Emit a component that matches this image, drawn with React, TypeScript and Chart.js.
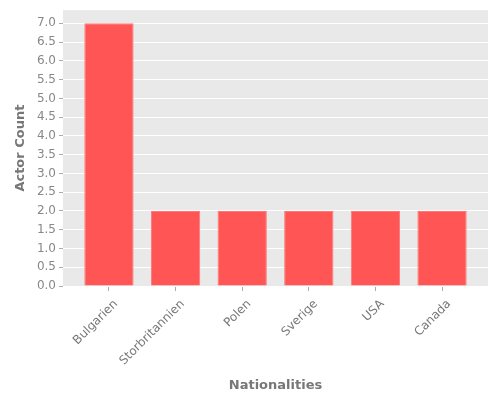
import React, { useEffect, useRef } from "react";
import { Chart, registerables } from "chart.js";

Chart.register(...registerables);

const categories = ["Bulgarien", "Storbritannien", "Polen", "Sverige", "USA", "Canada"];
const actorCounts = [7, 2, 2, 2, 2, 2];
const yTickValues = [0, 0.5, 1, 1.5, 2, 2.5, 3, 3.5, 4, 4.5, 5, 5.5, 6, 6.5, 7];

const plotBg = {
  id: "plotBg",
  beforeDraw(chart: any) {
    const { ctx, chartArea } = chart;
    if (!chartArea) return;
    ctx.save();
    ctx.fillStyle = "#e9e9e9";
    ctx.fillRect(chartArea.left, chartArea.top, chartArea.right - chartArea.left, chartArea.bottom - chartArea.top);
    ctx.restore();
  },
};

export default function App() {
  const ref = useRef<HTMLCanvasElement>(null);
  useEffect(() => {
    if (!ref.current) return;
    const font = "'DejaVu Sans', sans-serif";
    const chart = new Chart(ref.current, {
      type: "bar",
      data: {
        datasets: [
          {
            data: actorCounts.map((v, i) => ({ x: i, y: v })),
            backgroundColor: "#ff5555",
            borderColor: "#ff7777",
            borderWidth: 1,
            barPercentage: 0.74,
            categoryPercentage: 1,
          },
        ],
      },
      options: {
        animation: false,
        responsive: true,
        maintainAspectRatio: false,
        layout: { padding: { top: 10, right: 12, left: 0, bottom: 0 } },
        plugins: { legend: { display: false }, tooltip: { enabled: false } },
        scales: {
          x: {
            type: "linear",
            offset: false,
            min: -0.69,
            max: 5.69,
            afterBuildTicks: (scale: any) => {
              scale.ticks = categories.map((_, i) => ({ value: i }));
            },
            afterFit: (scale: any) => {
              scale.height = 114;
            },
            ticks: {
              autoSkip: false,
              maxRotation: 45,
              minRotation: 45,
              color: "#777",
              font: { family: font, size: 12 },
              padding: 6,
              labelOffset: 7,
              callback: (v: any) => categories[Math.round(Number(v))] ?? "",
            },
            grid: {
              offset: false,
              drawOnChartArea: false,
              drawTicks: true,
              tickLength: 5,
              tickColor: "#aaa",
            },
            border: { display: false },
            title: {
              display: true,
              text: "Nationalities",
              color: "#777",
              font: { family: font, size: 13, weight: "bold" },
              padding: { top: 0, bottom: 7 },
            },
          },
          y: {
            min: 0,
            max: 7.35,
            afterBuildTicks: (scale: any) => {
              scale.ticks = yTickValues.map((v) => ({ value: v }));
            },
            afterFit: (scale: any) => {
              scale.width = 63;
            },
            ticks: {
              color: "#888",
              font: { family: font, size: 12 },
              padding: 3,
              callback: (v: any) => Number(v).toFixed(1),
            },
            grid: {
              color: "#ffffff",
              lineWidth: 1,
              drawTicks: true,
              tickLength: 4,
              tickColor: "#aaa",
            },
            border: { display: false },
            title: {
              display: true,
              text: "Actor Count",
              color: "#777",
              font: { family: font, size: 13, weight: "bold" },
              padding: { top: 13, bottom: 0 },
            },
          },
        },
      },
      plugins: [plotBg],
    } as any);
    return () => chart.destroy();
  }, []);
  return (
    <div style={{ position: "fixed", left: 0, top: 0, width: 500, height: 400, background: "#fff" }}>
      <canvas ref={ref} />
    </div>
  );
}
